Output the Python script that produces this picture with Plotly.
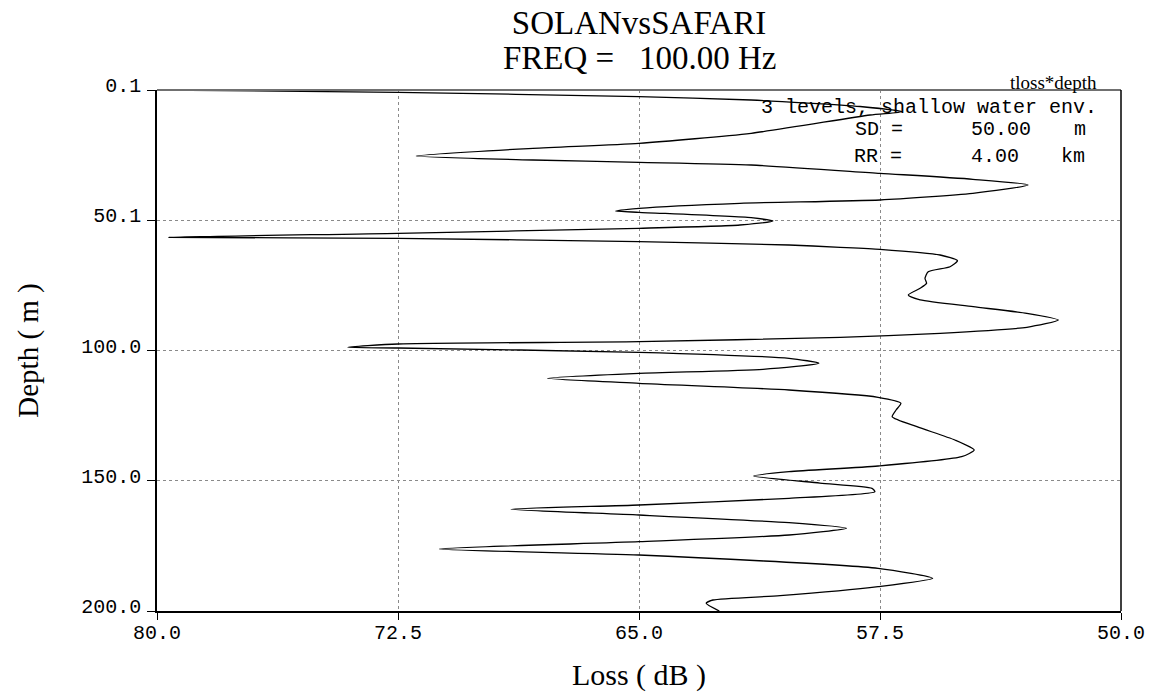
import plotly.graph_objects as go

# Transmission loss versus receiver depth
loss_db = [
    80.00, 72.50, 65.00, 61.51, 58.12, 56.82, 57.81, 61.51, 65.00, 68.30,
    71.93, 68.30, 65.00, 61.51, 57.50, 54.61, 52.89, 54.61, 57.50, 61.86,
    65.00, 65.73, 65.00, 61.51, 60.83, 61.86, 65.00, 72.50, 79.63, 72.50,
    65.00, 60.33, 58.74, 57.50, 55.63, 55.09, 55.32, 56.00, 56.10, 56.05,
    56.25, 56.62, 56.25, 54.60, 52.93, 51.95, 52.93, 55.63, 58.74, 65.00,
    72.50, 74.06, 72.50, 65.00, 60.33, 59.40, 61.14, 65.00, 67.85, 65.00,
    60.33, 57.56, 56.85, 57.00, 57.12, 56.35, 55.17, 54.57, 54.96, 57.56,
    60.33, 61.43, 59.37, 57.75, 57.66, 60.33, 65.00, 68.98, 65.00, 60.33,
    58.54, 60.33, 65.00, 71.21, 65.00, 57.56, 55.86, 57.56, 60.61, 62.70,
    62.91, 62.50,
]
depth_m = [
    0.10, 0.98, 2.67, 3.94, 6.43, 8.43, 9.69, 16.71, 20.55, 22.47,
    25.42, 26.96, 27.84, 28.88, 32.06, 34.36, 36.55, 39.74, 42.31, 43.57,
    45.49, 46.53, 47.03, 49.10, 50.36, 51.90, 53.16, 55.08, 56.62, 57.00,
    58.31, 59.57, 60.45, 61.22, 63.41, 65.60, 67.90, 69.82, 72.35, 74.27,
    76.19, 78.76, 80.67, 83.25, 85.78, 88.35, 91.15, 93.45, 94.99, 96.67,
    97.56, 98.82, 99.09, 100.74, 103.04, 104.96, 107.26, 108.80, 110.72, 112.64,
    115.21, 118.01, 120.31, 122.88, 125.45, 129.29, 134.39, 138.23, 140.80, 144.37,
    146.55, 148.20, 150.90, 152.92, 154.23, 156.76, 159.33, 160.98, 163.17, 166.12,
    168.27, 170.84, 173.41, 176.21, 178.52, 183.62, 187.46, 190.68, 194.13, 195.78,
    197.05, 200.00,
]

x_tick_vals = [80.0, 72.5, 65.0, 57.5, 50.0]
x_tick_text = ["80.0", "72.5", "65.0", "57.5", "50.0"]
y_tick_vals = [0.1, 50.075, 100.05, 150.025, 200.0]
y_tick_text = ["0.1", "50.1", "100.0", "150.0", "200.0"]

SERIF = "Liberation Serif"
MONO = "Liberation Mono"
NB = "\u00a0"

# plot area in pixels
L, R, T, B = 157, 1121, 90, 611
W, H = 1159, 697

fig = go.Figure()
fig.add_trace(go.Scatter(
    x=loss_db, y=depth_m, mode="lines",
    line=dict(color="black", width=1.3, shape="spline", smoothing=0.6),
    showlegend=False, hoverinfo="skip",
))

fig.update_layout(
    width=W, height=H,
    margin=dict(l=L, r=W - R, t=T, b=H - B),
    paper_bgcolor="white", plot_bgcolor="white",
    title=dict(
        text="SOLANvsSAFARI",
        x=0.5, xref="paper", xanchor="center",
        y=1 - 22 / H, yref="container", yanchor="middle",
        font=dict(family=SERIF, size=33, color="black"),
    ),
)

fig.update_xaxes(
    range=[80, 50], tickvals=x_tick_vals, ticktext=x_tick_text,
    ticks="outside", ticklen=7, tickcolor="black", tickwidth=1,
    tickfont=dict(family=MONO, size=20, color="black"),
    ticklabelstandoff=-5,
    showline=True, linecolor="black", linewidth=1.5,
    showgrid=True, gridcolor="#8a8a8a", griddash="dot", gridwidth=1,
    zeroline=False, automargin=False,
    title=dict(text="Loss ( dB )", font=dict(family=SERIF, size=30, color="black"), standoff=20),
)
fig.update_yaxes(
    range=[200, 0.1], tickvals=y_tick_vals, ticktext=y_tick_text,
    ticks="outside", ticklen=8, tickcolor="black", tickwidth=1,
    tickfont=dict(family=MONO, size=20, color="black"),
    ticklabelstandoff=2, ticklabelshift=5,
    showline=True, linecolor="black", linewidth=1.5,
    showgrid=True, gridcolor="#8a8a8a", griddash="dot", gridwidth=1,
    zeroline=False, automargin=False,
    title=dict(text="Depth ( m )", font=dict(family=SERIF, size=29, color="black"), standoff=34),
)

# frame: grey top edge, black right edge
fig.add_shape(type="line", xref="paper", yref="paper", x0=0, x1=1, y0=1, y1=1,
              line=dict(color="#707070", width=2))
fig.add_shape(type="line", xref="paper", yref="paper", x0=1, x1=1, y0=0, y1=1,
              line=dict(color="black", width=1.5))


def px_x(x):
    return (x - L) / (R - L)


def px_y(y):
    return 1 - (y - T) / (B - T)


# second title line and run information box
labels = [
    ("FREQ =" + NB * 3 + "100.00 Hz", 639, 58, SERIF, 33, "center"),
    ("tloss*depth", 1099, 82, SERIF, 19, "right"),
    ("3 levels, shallow water env.", 1099, 107, MONO, 20, "right"),
    ("SD =", 853, 129, MONO, 20, "left"),
    ("50.00", 1033, 129, MONO, 20, "right"),
    ("m", 1080, 129, MONO, 20, "center"),
    ("RR =", 852, 156, MONO, 20, "left"),
    ("4.00", 1021, 156, MONO, 20, "right"),
    ("km", 1073, 156, MONO, 20, "center"),
]
for text, x, y, fam, size, anchor in labels:
    fig.add_annotation(
        text=text, xref="paper", yref="paper",
        x=px_x(x), y=px_y(y), xanchor=anchor, yanchor="middle",
        showarrow=False, font=dict(family=fam, size=size, color="black"),
    )

fig.write_html("out.html")
